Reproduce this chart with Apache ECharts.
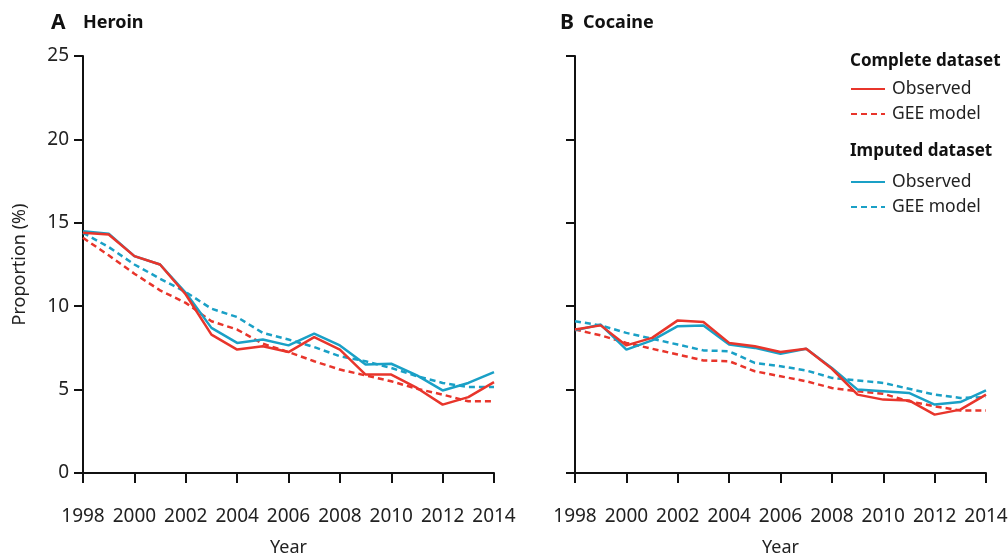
<!DOCTYPE html>
<html>
<head>
<meta charset="utf-8">
<script src="https://cdn.jsdelivr.net/npm/echarts@6/dist/echarts.min.js"></script>
<style>
  html, body { margin: 0; padding: 0; background: #fff; }
  #chart { width: 1008px; height: 557px; }
</style>
</head>
<body>
<div id="chart"></div>
<script>
// Survey years shared by both panels
const years = [1998, 1999, 2000, 2001, 2002, 2003, 2004, 2005, 2006, 2007, 2008, 2009, 2010, 2011, 2012, 2013, 2014];
const yTicks = [0, 5, 10, 15, 20, 25];
const xTicks = [1998, 2000, 2002, 2004, 2006, 2008, 2010, 2012, 2014];

// Panel A: heroin (%)
const heroinCompleteObserved = [14.4, 14.3, 13.0, 12.5, 10.7, 8.3, 7.4, 7.6, 7.25, 8.15, 7.4, 5.9, 5.9, 5.1, 4.1, 4.55, 5.45];
const heroinCompleteGee      = [14.1, 13.05, 11.95, 10.95, 10.2, 9.1, 8.6, 7.75, 7.25, 6.7, 6.2, 5.85, 5.5, 5.05, 4.7, 4.3, 4.3];
const heroinImputedObserved  = [14.5, 14.35, 13.0, 12.5, 10.8, 8.7, 7.8, 8.0, 7.65, 8.35, 7.65, 6.5, 6.55, 5.85, 4.95, 5.4, 6.05];
const heroinImputedGee       = [14.4, 13.55, 12.5, 11.65, 10.85, 9.85, 9.35, 8.4, 8.0, 7.55, 7.0, 6.7, 6.3, 5.8, 5.4, 5.15, 5.15];

// Panel B: cocaine (%)
const cocaineCompleteObserved = [8.6, 8.85, 7.65, 8.1, 9.15, 9.05, 7.8, 7.6, 7.25, 7.45, 6.25, 4.7, 4.4, 4.35, 3.5, 3.8, 4.7];
const cocaineCompleteGee      = [8.6, 8.25, 7.8, 7.45, 7.1, 6.75, 6.7, 6.1, 5.8, 5.5, 5.1, 4.9, 4.75, 4.3, 4.0, 3.75, 3.75];
const cocaineImputedObserved  = [8.55, 8.9, 7.4, 7.95, 8.8, 8.85, 7.7, 7.5, 7.15, 7.45, 6.3, 5.0, 4.9, 4.8, 4.1, 4.25, 4.95];
const cocaineImputedGee       = [9.1, 8.85, 8.4, 8.05, 7.7, 7.35, 7.3, 6.6, 6.4, 6.15, 5.7, 5.55, 5.4, 5.05, 4.7, 4.5, 4.55];

const RED = '#e8352b';
const BLUE = '#1aa0c6';
const FONT = 'Noto Sans';
const DASH = [6, 4];

const pairs = vals => years.map((y, i) => [y, vals[i]]);

function lineSeries(name, vals, color, dashed, idx) {
  return {
    name: name,
    type: 'line',
    xAxisIndex: idx,
    yAxisIndex: idx,
    data: pairs(vals),
    symbol: 'none',
    showSymbol: false,
    silent: true,
    lineStyle: { color: color, width: 2.5, type: dashed ? DASH : 'solid' },
    itemStyle: { color: color }
  };
}

function xAxisCfg(idx) {
  return {
    gridIndex: idx,
    type: 'value',
    min: 1998, max: 2014, interval: 2,
    name: 'Year',
    nameLocation: 'middle',
    nameGap: 66,
    nameTextStyle: { fontFamily: FONT, fontSize: 18, color: '#222' },
    axisLine: { show: true, onZero: true, lineStyle: { color: '#111', width: 2 } },
    axisTick: { show: true, length: 10, lineStyle: { color: '#111', width: 2 } },
    axisLabel: {
      show: true, margin: 34, showMinLabel: true, showMaxLabel: true,
      fontFamily: FONT, fontSize: 19, color: '#222',
      formatter: v => xTicks.includes(v) ? String(v) : ''
    },
    splitLine: { show: false }
  };
}

function yAxisCfg(idx, showLabels) {
  return {
    gridIndex: idx,
    type: 'value',
    min: 0, max: 25, interval: 5,
    name: showLabels ? 'Proportion (%)' : '',
    nameLocation: 'middle',
    nameGap: 54,
    nameTextStyle: { fontFamily: FONT, fontSize: 18, color: '#222' },
    axisLine: { show: true, lineStyle: { color: '#111', width: 2 } },
    axisTick: { show: true, length: 9, lineStyle: { color: '#111', width: 2 } },
    axisLabel: {
      show: showLabels, margin: 14,
      fontFamily: FONT, fontSize: 19, color: '#222',
      formatter: v => yTicks.includes(v) ? String(v) : ''
    },
    splitLine: { show: false }
  };
}

const chart = echarts.init(document.getElementById('chart'), null, { renderer: 'canvas' });

const legendCommon = {
  orient: 'vertical',
  left: 845,
  itemWidth: 34,
  itemHeight: 14,
  itemGap: 7,
  selectedMode: false,
  itemStyle: { opacity: 0, borderWidth: 0 },
  textStyle: { fontFamily: FONT, fontSize: 17.5, color: '#222', padding: [0, 0, 0, 2] },
  formatter: n => n.split(' · ')[1]
};

const boldText = (size) => ({ fontFamily: FONT, fontWeight: 'bold', fontSize: size, color: '#111' });

chart.setOption({
  backgroundColor: '#fff',
  animation: false,
  title: [
    { text: 'A', left: 46, top: 8, textStyle: boldText(21) },
    { text: 'Heroin', left: 78, top: 9, textStyle: boldText(18) },
    { text: 'B', left: 555, top: 8, textStyle: boldText(21) },
    { text: 'Cocaine', left: 578, top: 9, textStyle: boldText(18) },
    { text: 'Complete dataset', left: 845, top: 48, textStyle: boldText(17) },
    { text: 'Imputed dataset', left: 845, top: 138, textStyle: boldText(17) }
  ],
  legend: [
    Object.assign({}, legendCommon, {
      top: 75,
      data: ['Complete dataset · Observed', 'Complete dataset · GEE model']
    }),
    Object.assign({}, legendCommon, {
      top: 168,
      data: ['Imputed dataset · Observed', 'Imputed dataset · GEE model']
    })
  ],
  grid: [
    { left: 83, top: 56, width: 411, height: 417, containLabel: false, outerBoundsMode: 'none' },
    { left: 575, top: 56, width: 411, height: 417, containLabel: false, outerBoundsMode: 'none' }
  ],
  xAxis: [xAxisCfg(0), xAxisCfg(1)],
  yAxis: [yAxisCfg(0, true), yAxisCfg(1, false)],
  series: [
    lineSeries('Imputed dataset · GEE model', heroinImputedGee, BLUE, true, 0),
    lineSeries('Complete dataset · GEE model', heroinCompleteGee, RED, true, 0),
    lineSeries('Imputed dataset · Observed', heroinImputedObserved, BLUE, false, 0),
    lineSeries('Complete dataset · Observed', heroinCompleteObserved, RED, false, 0),
    lineSeries('Imputed dataset · GEE model', cocaineImputedGee, BLUE, true, 1),
    lineSeries('Complete dataset · GEE model', cocaineCompleteGee, RED, true, 1),
    lineSeries('Imputed dataset · Observed', cocaineImputedObserved, BLUE, false, 1),
    lineSeries('Complete dataset · Observed', cocaineCompleteObserved, RED, false, 1)
  ]
});
</script>
</body>
</html>
